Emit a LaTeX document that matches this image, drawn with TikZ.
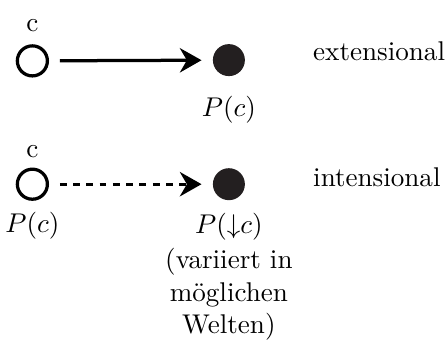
\documentclass[tikz,border=0pt]{standalone}
\usepackage{fontspec}
\usetikzlibrary{arrows.meta, positioning}
\definecolor{DotFill}{RGB}{35, 31, 32}

\begin{document}
\begin{tikzpicture}[
        emptydot/.style={circle, draw=black, very thick, inner sep=0pt, minimum size=0.39cm},
        fulldot/.style={circle, fill=DotFill, inner sep=0pt, minimum size=0.415cm},
        conn/.style={-{Stealth[length=8pt, width=9pt]}, very thick, shorten <=4pt, shorten >=4pt},
        kind/.style={anchor=base west}
    ]
        \useasboundingbox (0,0) rectangle (5.80,-4.45);

        % extensional
        \node[emptydot] (ext) at (0.42,-0.79) {};
        \node[fulldot] (extval) at (2.97,-0.78) {};
        \node[above=1pt of ext] (extc) {c};
        \node[below=3.5pt of extval] (extp) {$P(c)$};
        \draw[conn] (ext) -- (extval);
        \node[kind] (extname) at (3.94,-0.79) {extensional};

        % intensional
        \node[emptydot] (int) at (0.42,-2.39) {};
        \node[fulldot] (intval) at (2.97,-2.39) {};
        \node[above=0pt of int] (intc) {c};
        \node[below=0.5pt of int] (intp) {$P(c)$};
        \node[below=1pt of intval] (intdp) {$P(\mathord{\downarrow}c)$};
        \node[below=-4pt of intdp, align=center] (intnote) {(variiert in\\möglichen\\Welten)};
        \draw[conn, dash pattern=on 2.5pt off 2.4pt] (int) -- (intval);
        \node[kind] (intname) at (3.94,-2.42) {intensional};
\end{tikzpicture}
\end{document}
